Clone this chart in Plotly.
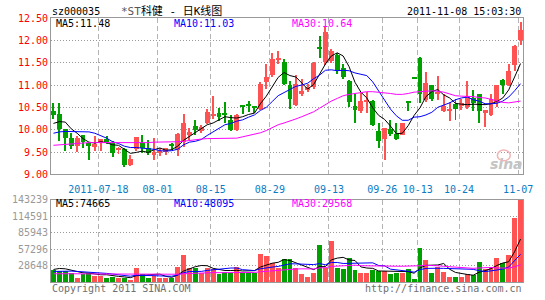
import plotly.graph_objects as go

# ---------------- data ----------------
stock_code = "sz000035"
title_text = "<span style='color:#555555'>*ST</span>科健 - 日K线图"
timestamp = "2011-11-08 15:03:30"

tick_idx = [7, 17, 26, 36, 46, 55, 61, 68, 78]
tick_text = ["2011-07-18", "08-01", "08-15", "08-29", "09-13", "09-26", "10-13", "10-24", "11-07"]

price_ticks = [9.00, 9.50, 10.00, 10.50, 11.00, 11.50, 12.00, 12.50]
vol_ticks = [28648, 57296, 85943, 114591, 143239]

opens = [10.41,10.34,10.01,9.81,9.63,9.88,9.70,9.61,9.70,9.79,
 9.70,9.54,9.56,9.22,9.57,9.70,9.58,9.43,9.47,9.51,
 9.67,9.55,9.72,9.87,10.09,9.96,10.16,10.32,10.38,10.36,
 10.22,9.99,10.53,10.57,10.53,10.47,11.06,11.22,11.58,11.51,
 11.00,10.55,10.80,10.89,10.95,11.84,11.52,11.53,11.68,11.37,
 11.10,10.52,10.41,10.63,10.64,9.97,9.78,10.01,9.90,9.89,
 10.63,11.16,11.61,10.66,10.99,10.80,10.42,10.42,10.58,10.54,
 10.51,10.72,10.79,10.37,10.32,10.62,11.12,10.99,11.45,12.01]

highs = [10.60,10.60,10.02,9.92,9.85,9.88,9.72,9.85,9.80,9.86,
 9.74,9.62,9.59,9.44,9.84,9.87,9.76,9.82,9.59,9.60,
 9.70,9.92,10.36,10.03,10.21,10.10,10.46,10.75,10.48,10.62,
 10.32,10.35,10.55,10.65,10.54,11.06,11.46,11.72,11.76,11.58,
 11.10,11.22,11.13,11.03,11.51,12.09,12.31,11.80,11.72,11.46,
 11.12,10.80,10.84,10.84,10.66,10.15,10.04,10.22,10.14,10.16,
 10.63,11.16,11.62,11.30,11.00,11.20,10.80,10.62,10.69,10.69,
 11.09,10.89,10.80,10.44,10.80,11.01,11.14,11.46,11.89,12.40]

lows = [10.25,9.74,9.52,9.57,9.51,9.58,9.33,9.52,9.53,9.68,
 9.39,9.46,9.16,9.19,9.52,9.47,9.43,9.31,9.40,9.44,
 9.55,9.40,9.62,9.77,9.87,9.92,10.12,10.25,10.19,10.16,
 9.97,9.97,10.36,10.40,10.38,10.43,10.91,11.18,11.46,10.99,
 10.46,10.52,10.76,10.84,10.91,11.61,11.45,11.50,11.24,11.13,
 10.50,10.16,10.38,10.38,10.08,9.59,9.33,9.85,9.77,9.87,
 10.41,11.14,10.60,10.63,10.65,10.66,10.40,10.20,10.21,10.45,
 10.47,10.41,10.15,10.05,10.31,10.50,10.80,10.98,11.32,11.89]

closes = [10.32,10.01,9.82,9.63,9.81,9.72,9.64,9.68,9.79,9.72,
 9.48,9.59,9.22,9.35,9.83,9.60,9.47,9.51,9.53,9.59,
 9.64,9.90,10.16,9.94,9.99,10.07,10.40,10.36,10.29,10.33,
 9.99,10.32,10.51,10.55,10.49,11.02,11.17,11.59,11.60,11.02,
 10.69,11.02,10.87,10.96,11.50,11.82,12.18,11.77,11.32,11.18,
 10.61,10.44,10.65,10.65,10.10,9.74,10.03,9.90,9.79,10.14,
 10.61,11.14,10.79,11.04,10.69,10.84,10.52,10.44,10.47,10.59,
 10.76,10.60,10.41,10.43,10.69,11.00,11.00,11.32,11.88,12.24]

ma5 = [10.14,10.18,10.17,10.02,9.92,9.80,9.72,9.70,9.73,9.71,
 9.66,9.65,9.56,9.47,9.49,9.52,9.49,9.55,9.59,9.54,
 9.55,9.63,9.76,9.85,9.93,10.01,10.11,10.15,10.22,10.29,
 10.27,10.26,10.29,10.34,10.37,10.58,10.75,10.96,11.17,11.28,
 11.21,11.18,11.04,10.91,11.01,11.23,11.47,11.65,11.72,11.65,
 11.41,11.06,10.84,10.71,10.49,10.32,10.23,10.08,9.91,9.92,
 10.09,10.32,10.49,10.74,10.85,10.90,10.78,10.71,10.59,10.57,
 10.56,10.57,10.57,10.56,10.58,10.63,10.71,10.89,11.18,11.48]

ma10 = [9.92,9.95,9.96,9.96,9.96,9.96,9.95,9.92,9.87,9.81,
 9.73,9.69,9.63,9.60,9.60,9.59,9.57,9.56,9.53,9.52,
 9.53,9.56,9.66,9.72,9.74,9.78,9.87,9.96,10.03,10.11,
 10.14,10.19,10.22,10.28,10.33,10.43,10.50,10.63,10.76,10.83,
 10.90,10.97,11.00,11.04,11.14,11.22,11.33,11.34,11.32,11.33,
 11.32,11.27,11.24,11.21,11.07,10.86,10.65,10.46,10.31,10.21,
 10.21,10.28,10.29,10.33,10.39,10.50,10.55,10.60,10.67,10.71,
 10.73,10.67,10.64,10.58,10.58,10.59,10.64,10.73,10.87,11.03]

ma30 = [9.65,9.66,9.68,9.69,9.69,9.70,9.71,9.71,9.71,9.71,
 9.71,9.71,9.70,9.70,9.70,9.71,9.71,9.72,9.72,9.72,
 9.72,9.73,9.74,9.76,9.78,9.79,9.80,9.80,9.81,9.81,
 9.80,9.81,9.84,9.87,9.89,9.93,9.98,10.05,10.11,10.15,
 10.19,10.24,10.29,10.35,10.40,10.48,10.57,10.64,10.70,10.76,
 10.79,10.81,10.82,10.85,10.85,10.84,10.83,10.81,10.79,10.79,
 10.81,10.84,10.85,10.86,10.87,10.86,10.84,10.80,10.76,10.75,
 10.75,10.74,10.72,10.71,10.68,10.65,10.61,10.60,10.62,10.64]

volumes = [21200,20054,19481,17189,8594,14324,17189,11459,11459,8594,
 10313,6876,6876,4584,25783,15470,8594,11459,6876,6876,
 6876,27502,46983,25783,25783,17189,25783,24064,14324,18335,
 17189,27502,18335,18335,17189,48702,45837,33232,25783,41253,
 40107,25783,14324,10313,17189,65890,25783,72766,25783,24064,
 42972,21200,17189,16043,21200,20054,20054,14324,16043,17189,
 22918,5730,60161,38388,16043,27502,18908,10313,10313,10313,
 15470,12605,36096,24064,27502,42972,34378,46983,111727,143239]

vol_ma5 = [21770,23490,22920,20630,17300,15930,15360,13750,12610,12610,
 11800,9740,8820,7450,10890,11920,12260,13180,13640,9860,
 8140,11920,19020,22800,26590,28650,28310,23720,21430,19940,
 19940,20280,19140,19940,19710,26010,29680,32660,34150,38960,
 37240,33230,29450,26360,21540,26700,26700,38390,41480,42860,
 38270,37360,26240,24290,23720,19140,18910,18330,18330,17530,
 18110,15240,24410,28880,28650,29570,32200,22230,16620,15470,
 13060,11800,16960,19710,23150,28650,33000,35180,52710,74665]

vol_ma10 = [18340,18910,18910,18910,18340,17760,17760,17190,16040,14950,
 13870,12550,11290,10030,11750,11860,11000,11000,10540,10370,
 10030,12090,16100,18220,18220,18390,20110,21370,22120,23260,
 24290,24290,21430,20680,19830,22980,24980,25900,27040,29340,
 31630,31460,31060,30250,30250,31970,29970,33920,33920,32200,
 32490,32030,32320,32890,33290,28710,28130,22290,21310,20630,
 18620,17070,21370,23610,23090,23840,23720,23320,22750,22060,
 21310,22000,19600,18160,19310,20860,22400,26070,36210,48095]

vol_ma30 = [14320,14610,14610,14320,14320,14040,14040,13750,13750,13750,
 13470,13470,13180,13180,13180,13180,12890,12890,12890,12890,
 12890,13470,14320,14900,15470,15760,16040,16330,16220,16200,
 16060,16310,16270,16310,16600,17740,18700,19420,19900,20990,
 21980,22610,22860,23050,22760,24450,25020,27060,27690,28260,
 29470,29260,28260,27940,27790,27890,27690,27370,27430,27390,
 27580,26860,28250,28920,28880,28170,27270,26510,26000,24960,
 24140,23700,24430,24880,25230,24470,24750,23890,26760,29568]

# ---------------- styling ----------------
RED = "#ff5252"
GREEN = "#00a000"
MONO = "DejaVu Sans Mono, Liberation Mono, monospace"
CJK = "DejaVu Sans Mono, Noto Sans CJK SC, sans-serif"
BOX = "#999999"

n = len(closes)
xs = list(range(n))
colors = [RED if c >= o else GREEN for o, c in zip(opens, closes)]
body_base = [min(o, c) for o, c in zip(opens, closes)]
body_h = [max(abs(c - o), 0.022) for o, c in zip(opens, closes)]
wick_h = [h - l for h, l in zip(highs, lows)]

fig = go.Figure()
# wicks
fig.add_trace(go.Bar(x=xs, y=wick_h, base=lows, width=1/6,
                     marker=dict(color=colors, line=dict(width=0)),
                     xaxis="x", yaxis="y", hoverinfo="skip"))
# bodies
fig.add_trace(go.Bar(x=xs, y=body_h, base=body_base, width=0.83,
                     marker=dict(color=colors, line=dict(width=0)),
                     xaxis="x", yaxis="y", hoverinfo="skip"))
for arr, col in [(ma5, "#000000"), (ma10, "#0000ff"), (ma30, "#ff00ff")]:
    fig.add_trace(go.Scatter(x=xs, y=arr, mode="lines", line=dict(color=col, width=1),
                             xaxis="x", yaxis="y", hoverinfo="skip"))
# volume
fig.add_trace(go.Bar(x=xs, y=volumes, width=0.83,
                     marker=dict(color=colors, line=dict(width=0)),
                     xaxis="x2", yaxis="y2", hoverinfo="skip"))
for arr, col in [(vol_ma5, "#000000"), (vol_ma10, "#0000ff"), (vol_ma30, "#ff00ff")]:
    fig.add_trace(go.Scatter(x=xs, y=arr, mode="lines", line=dict(color=col, width=1),
                             xaxis="x2", yaxis="y2", hoverinfo="skip"))

grid_x = [i + 0.6 for i in tick_idx]
xr = [-0.4167, n - 1 + 0.4167]

# pixel helpers for annotation placement (plot area: x 50..529, y 18..286)
def px(x):
    return (x - 50) / 479.0

def py(y):
    return (286 - y) / 268.0

xcommon = dict(range=xr, tickmode="array", tickvals=grid_x, showgrid=True,
               gridcolor="#b4b4b4", griddash="5px,3px", gridwidth=1,
               showline=True, mirror=True, linecolor=BOX, linewidth=1,
               ticks="", zeroline=False, fixedrange=True)

fig.update_layout(
    width=545, height=300,
    margin=dict(l=50, r=16, t=18, b=14),
    paper_bgcolor="white", plot_bgcolor="white",
    showlegend=False, barmode="overlay", bargap=0,
    xaxis=dict(domain=[0, 1], anchor="y", ticktext=tick_text,
               tickfont=dict(family=MONO, size=10, color="#0a7cc4"),
               ticklabelstandoff=6, **xcommon),
    xaxis2=dict(domain=[0, 1], anchor="y2", matches="x", showticklabels=False, **xcommon),
    yaxis=dict(domain=[py(176.7), 1], anchor="x", range=[9.0, 12.5],
               tickmode="array", tickvals=price_ticks,
               ticktext=[f"{v:.2f}" for v in price_ticks],
               tickfont=dict(family=MONO, size=10, color="#ff0000"),
               showgrid=True, gridcolor="#9a9a9a", griddash="1px,2px", gridwidth=1,
               showline=True, mirror=True, linecolor=BOX, linewidth=1,
               ticks="", zeroline=False, fixedrange=True),
    yaxis2=dict(domain=[0, py(202.3)], anchor="x2", range=[0, vol_ticks[-1]],
                tickmode="array", tickvals=vol_ticks,
                ticktext=[str(v) for v in vol_ticks],
                tickfont=dict(family=MONO, size=10, color="#999999"),
                showgrid=True, gridcolor="#9a9a9a", griddash="1px,2px", gridwidth=1,
                showline=True, mirror=True, linecolor=BOX, linewidth=1,
                ticks="", zeroline=False, fixedrange=True),
)

def ann(text, x, y, xanchor="left", color="#000000", family=MONO, size=10):
    fig.add_annotation(text=text, x=x, y=y, xref="paper", yref="paper",
                       xanchor=xanchor, yanchor="middle", showarrow=False,
                       font=dict(family=family, size=size, color=color),
                       borderpad=0)

ann(stock_code, px(50), py(11))
ann(title_text, px(120), py(11), family=CJK, size=11)
ann(timestamp, px(528), py(11), xanchor="right")

ann(f"MA5:{ma5[-1]:.2f}", px(54), py(24))
ann(f"MA10:{ma10[-1]:.2f}", px(174), py(24), color="#0000ff")
ann(f"MA30:{ma30[-1]:.2f}", px(294), py(24), color="#ff00ff")

ann(f"MA5:{vol_ma5[-1]}", px(54), py(206.5))
ann(f"MA10:{vol_ma10[-1]}", px(174), py(206.5), color="#0000ff")
ann(f"MA30:{vol_ma30[-1]}", px(294), py(206.5), color="#ff00ff")

ann("Copyright 2011 SINA.COM", px(50), py(292.5), color="#707070")
ann("http://finance.sina.com.cn", px(529), py(292.5), xanchor="right", color="#707070")

# faint sina watermark
ann("<b><i>sina</i></b>", px(512), py(166), xanchor="center", color="#c4c4c4",
    family="DejaVu Sans, sans-serif", size=14)
fig.add_shape(type="circle", xref="paper", yref="paper",
              x0=px(503), x1=px(516), y0=py(163), y1=py(152),
              line=dict(color="#f2b4b4", width=1.5))

fig.write_html("out.html")
